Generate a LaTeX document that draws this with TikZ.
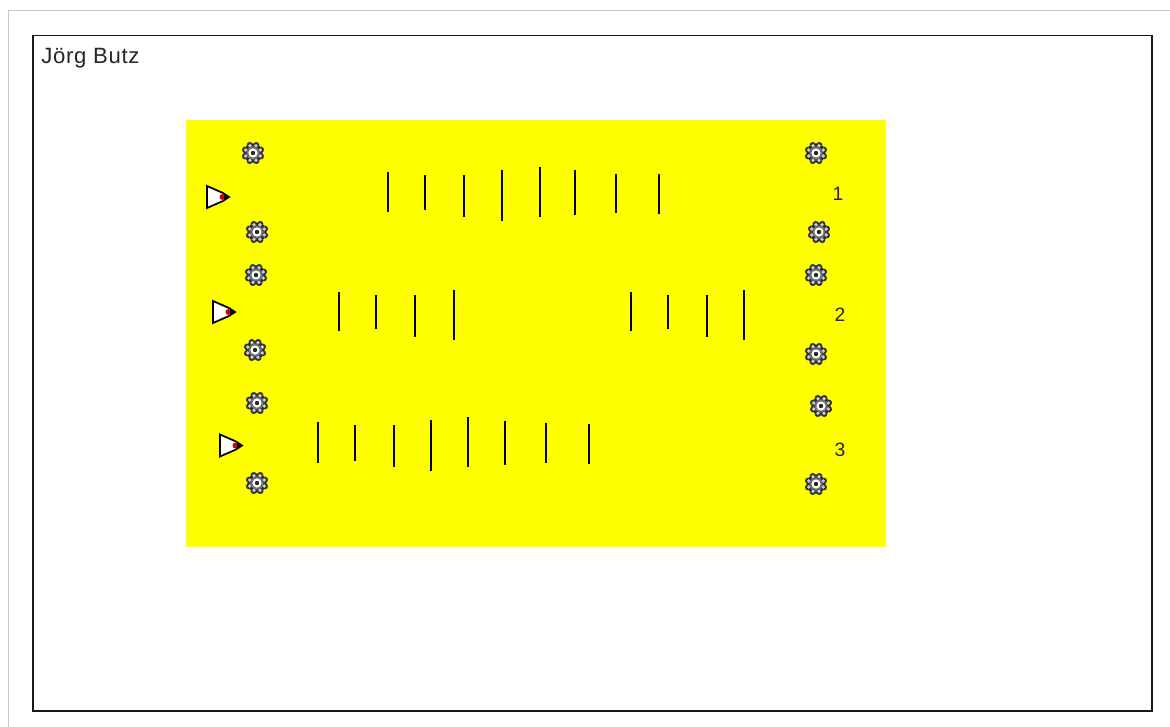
\documentclass[tikz,border=0pt]{standalone}
\usepackage{fontspec}
\setmainfont{Liberation Sans}
\definecolor{CourseYellow}{RGB}{255,255,0}
\definecolor{FrameGray}{RGB}{200,200,200}
\definecolor{BuoyGray}{RGB}{110,110,110}
\definecolor{BowRed}{RGB}{200,0,20}
\usetikzlibrary{calc}
\tikzset{
	pics/buoy/.style={code={
		\foreach \a in {0,45,...,315} {
			\fill[black!80] (\a+22.5:8.6) circle (3.1);
		}
		\fill[black!80] (0,0) circle (9.6);
		\foreach \a in {0,45,...,315} {
			\fill[white!80!black] (\a+22.5:7.9) circle (1.9);
		}
		\fill[BuoyGray] (0,0) circle (6.6);
		\fill[white] (0,0) circle (4.6);
		\fill[black!85] (0,0) circle (2.2);
	}},
	gate/.style={draw=black, line width=0.95pt},
	boat/.style={draw=black, fill=white, line width=1pt, line join=miter},
	tag/.style={font=\fontsize{11}{13}\selectfont, text=black!85, inner sep=0pt}
}
\begin{document}
\begin{tikzpicture}[x=0.02cm, y=-0.02cm]
	\useasboundingbox (0,0) rectangle (1170,727);
	% outer window
	\fill[white] (0,0) rectangle (1170,727);
	\draw[FrameGray, line width=0.9pt] (8.5,727) -- (8.5,10.5) -- (1170,10.5);
	\draw[black!90, line width=0.8pt] (33,35.5) rectangle (1152,711);
	\node[anchor=west, font=\fontsize{12.6}{15}\selectfont\addfontfeature{LetterSpace=3}, text=black!85, inner sep=0pt] (author) at (41,58.5) {Jörg Butz};
	% course
	\fill[CourseYellow] (186,120) rectangle (886,547);
	% buoys
	\foreach \x/\y in {253/153, 257/232, 256/275, 255/350, 257/403, 257/483,
		816/153, 819/232, 816/275, 816/354, 821/406, 816/484} {
		\pic at (\x,\y) {buoy};
	}
	% boats
	\foreach \x/\y in {207/197, 213/312, 220/445.5} {
		\draw[boat] (\x,\y-11) -- (\x,\y+11) -- (\x+16,\y+4) -- (\x+22,\y) -- (\x+16,\y-4) -- cycle;
		\fill[BowRed] (\x+15.5,\y) circle (3);
		\fill[black] (\x+17,\y-2.5) -- (\x+23,\y) -- (\x+17,\y+2.5) -- cycle;
	}
	% gates
	\foreach \x/\a/\b in {388/172/212, 425/175/210, 464/175/217, 502/170/221,
		540/167/217, 575/170/215, 616/174/213, 659/174/214,
		339/292/331, 376/295/329, 415/295/337, 454/290/340,
		631/292/331, 668/295/329, 707/295/337, 744/290/340,
		318/422/463, 355/425/461, 394/425/467, 431/420/471,
		468/417/467, 505/421/465, 546/423/463, 589/424/464} {
		\draw[gate] (\x-0.3,\a) -- (\x-0.3,\b);
	}
	% lanes
	\node[tag] (lane1) at (838,194) {1};
	\node[tag] (lane2) at (840,315) {2};
	\node[tag] (lane3) at (840,450) {3};
\end{tikzpicture}
\end{document}
